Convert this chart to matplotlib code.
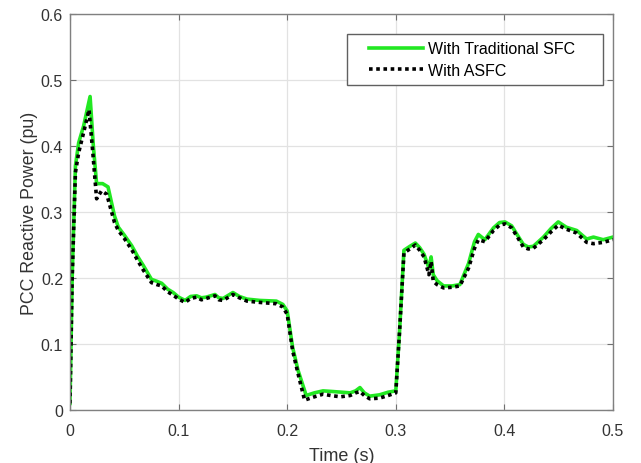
import numpy as np
import matplotlib.pyplot as plt
from matplotlib.lines import Line2D
from matplotlib.legend_handler import HandlerLine2D

plt.rcParams['font.family'] = ['Liberation Sans', 'DejaVu Sans']

# PCC reactive power, traditional SFC
t_sfc = [0, 0.002, 0.005, 0.008, 0.0125, 0.0185, 0.0215, 0.0245, 0.03, 0.035,
         0.041, 0.0445, 0.05, 0.0568, 0.0625, 0.0675, 0.075, 0.08, 0.0844, 0.09,
         0.095, 0.1, 0.106, 0.111, 0.1166, 0.121, 0.1254, 0.1335, 0.137, 0.141,
         0.15, 0.156, 0.163, 0.175, 0.19, 0.196, 0.2, 0.205, 0.21, 0.2175,
         0.225, 0.233, 0.242, 0.25, 0.258, 0.263, 0.267, 0.271, 0.276, 0.285,
         0.293, 0.3, 0.3035, 0.3075, 0.313, 0.318, 0.322, 0.326, 0.3305, 0.3325,
         0.3345, 0.338, 0.344, 0.352, 0.359, 0.367, 0.3725, 0.376, 0.382, 0.39,
         0.3955, 0.4005, 0.4067, 0.412, 0.4174, 0.422, 0.4266, 0.436, 0.443, 0.4496,
         0.457, 0.4666, 0.4758, 0.482, 0.491, 0.5]
q_sfc = [0.01, 0.2, 0.37, 0.405, 0.43, 0.475, 0.40, 0.343, 0.343, 0.338,
         0.294, 0.277, 0.265, 0.249, 0.232, 0.219, 0.198, 0.195, 0.192, 0.183,
         0.178, 0.171, 0.166, 0.172, 0.173, 0.170, 0.171, 0.175, 0.170, 0.169,
         0.178, 0.172, 0.168, 0.166, 0.165, 0.160, 0.150, 0.095, 0.06, 0.022,
         0.026, 0.029, 0.028, 0.027, 0.026, 0.029, 0.034, 0.026, 0.021, 0.023,
         0.027, 0.029, 0.12, 0.242, 0.248, 0.253, 0.246, 0.236, 0.215, 0.232,
         0.205, 0.196, 0.188, 0.188, 0.19, 0.222, 0.255, 0.266, 0.258, 0.276,
         0.284, 0.285, 0.279, 0.265, 0.251, 0.247, 0.248, 0.262, 0.275, 0.285,
         0.277, 0.272, 0.259, 0.262, 0.258, 0.262]

# PCC reactive power, ASFC
t_asfc = [0, 0.002, 0.005, 0.008, 0.0125, 0.0175, 0.021, 0.0245, 0.029, 0.0338,
          0.041, 0.0445, 0.05, 0.0568, 0.0625, 0.0675, 0.075, 0.08, 0.0844, 0.09,
          0.095, 0.1, 0.106, 0.111, 0.1166, 0.121, 0.1254, 0.1335, 0.137, 0.141,
          0.15, 0.156, 0.163, 0.175, 0.19, 0.196, 0.2, 0.205, 0.21, 0.216,
          0.225, 0.233, 0.24, 0.249, 0.258, 0.263, 0.267, 0.271, 0.276, 0.285,
          0.293, 0.3, 0.3035, 0.3075, 0.313, 0.318, 0.322, 0.326, 0.3305, 0.3325,
          0.3345, 0.338, 0.344, 0.352, 0.359, 0.367, 0.3725, 0.376, 0.382, 0.39,
          0.3955, 0.4005, 0.4067, 0.412, 0.4174, 0.422, 0.4266, 0.436, 0.443, 0.4496,
          0.457, 0.4666, 0.4758, 0.482, 0.491, 0.5]
q_asfc = [0.01, 0.2, 0.36, 0.39, 0.42, 0.455, 0.39, 0.32, 0.332, 0.327,
          0.284, 0.272, 0.26, 0.243, 0.226, 0.212, 0.193, 0.19, 0.188, 0.179,
          0.174, 0.168, 0.163, 0.169, 0.171, 0.167, 0.169, 0.173, 0.167, 0.166,
          0.175, 0.17, 0.165, 0.163, 0.161, 0.156, 0.145, 0.09, 0.055, 0.015,
          0.02, 0.024, 0.022, 0.02, 0.022, 0.026, 0.028, 0.022, 0.017, 0.018,
          0.022, 0.026, 0.12, 0.238, 0.244, 0.25, 0.242, 0.232, 0.205, 0.225,
          0.195, 0.19, 0.185, 0.186, 0.188, 0.215, 0.245, 0.258, 0.255, 0.272,
          0.28, 0.282, 0.276, 0.262, 0.247, 0.244, 0.245, 0.258, 0.27, 0.28,
          0.274, 0.268, 0.254, 0.252, 0.254, 0.258]

xticks = [0, 0.1, 0.2, 0.3, 0.4, 0.5]
yticks = [0, 0.1, 0.2, 0.3, 0.4, 0.5, 0.6]

fig = plt.figure(figsize=(6.41, 4.64), dpi=100)
ax = fig.add_axes([0.1092, 0.1142, 0.8471, 0.8535])

ax.plot(t_sfc, q_sfc, color='#22e822', lw=2.6, label='With Traditional SFC')
ax.plot(t_asfc, q_asfc, color='black', lw=2.6, linestyle=(0, (1, 1)),
        label='With ASFC')

ax.set_xlim(0, 0.5)
ax.set_ylim(0, 0.6)
ax.set_xticks(xticks)
ax.set_yticks(yticks)
ax.set_xticklabels([f'{v:g}' for v in xticks])
ax.set_yticklabels([f'{v:g}' for v in yticks])
ax.grid(True, color='#e2e2e2', lw=0.9)
ax.set_axisbelow(True)
ax.tick_params(direction='in', top=True, right=True, length=4,
               color='#707070', labelsize=11.5, labelcolor='#333333')
ax.tick_params(axis='x', pad=9)
ax.tick_params(axis='y', pad=5)
for s in ax.spines.values():
    s.set_color('#808080')
    s.set_linewidth(1.0)

ax.set_xlabel('Time (s)', fontsize=13, color='#333333', labelpad=7)
ax.set_ylabel('PCC Reactive Power (pu)', fontsize=12.8, color='#333333', labelpad=2)

# legend box spans a fixed width; xpad pushes the sample lines inward
leg = ax.legend(loc='upper left', bbox_to_anchor=(0.510, 0.0, 0.4715, 0.9495),
                mode='expand', borderaxespad=0, fontsize=11.5,
                fancybox=False, framealpha=1, edgecolor='#606060',
                handlelength=4.3, handletextpad=0.3, borderpad=0.45,
                labelspacing=0.42,
                handler_map={Line2D: HandlerLine2D(xpad=0.95)})
leg.get_frame().set_linewidth(1.0)

fig.savefig('out.png', dpi=100)
